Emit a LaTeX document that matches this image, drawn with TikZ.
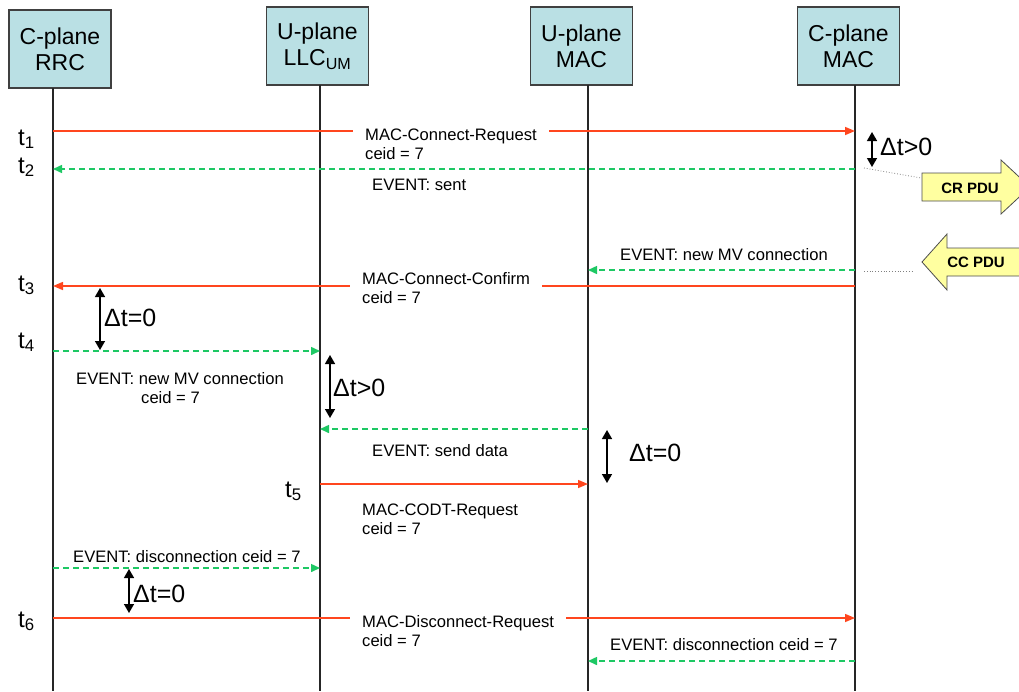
\documentclass[tikz,border=0pt]{standalone}
\usepackage{fontspec}
\setmainfont{Liberation Sans}
\usetikzlibrary{arrows.meta}

\definecolor{boxcyan}{RGB}{186,224,228}
\definecolor{msgred}{RGB}{255,70,30}
\definecolor{evgreen}{RGB}{30,200,100}
\definecolor{pduyellow}{RGB}{255,255,160}

\newcommand{\hdfont}{\fontsize{23}{26}\selectfont}
\newcommand{\msgfont}{\fontsize{16.6}{19}\selectfont}
\newcommand{\dtfont}{\fontsize{25}{28}\selectfont}
\newcommand{\tfont}{\fontsize{24}{28}\selectfont}
\newcommand{\pdufont}{\fontsize{15}{18}\selectfont\bfseries}

\tikzset{
	entity/.style={draw=black!75, line width=1.2pt, fill=boxcyan, minimum width=102pt, minimum height=78pt, align=center, font=\hdfont, inner sep=0pt},
	lifeline/.style={black!85, line width=1.3pt},
	req/.style={msgred, line width=1.5pt, -{Triangle[length=10pt,width=8pt]}},
	evt/.style={evgreen, line width=1.5pt, dash pattern=on 6pt off 4pt, -{Triangle[length=9pt,width=8pt]}},
	delay/.style={black, line width=1.4pt, {Triangle[length=9pt,width=10pt]}-{Triangle[length=9pt,width=10pt]}},
	msg/.style={font=\msgfont, align=left, inner sep=0pt, anchor=west},
	gapmsg/.style={msg, fill=white, inner xsep=12pt, inner ysep=3pt},
	tlabel/.style={font=\tfont, anchor=base west, inner sep=0pt},
	dtlabel/.style={font=\dtfont, anchor=west, inner sep=0pt},
	pdu/.style={draw=black!70, fill=pduyellow, line width=0.8pt},
	link/.style={gray, dotted, line width=0.8pt},
}

\begin{document}
\begin{tikzpicture}[x=1pt, y=-1pt]
	\useasboundingbox (0,0) rectangle (1019,691);
	\clip (0,0) rectangle (1019,691);

	\node[entity] (rrcbox) at (60,49) {C-plane\\RRC};
	\node[entity] (llcbox) at (317.5,46) {U-plane\\LLC\textsubscript{UM}};
	\node[entity] (umacbox) at (581.5,46) {U-plane\\MAC};
	\node[entity] (cmacbox) at (848.5,46) {C-plane\\MAC};

	\coordinate (rrc) at (53,88);
	\coordinate (llc) at (320,85);
	\coordinate (umac) at (588,85);
	\coordinate (cmac) at (855,85);
	\coordinate (bottom) at (0,691);
	\foreach \l in {rrc,llc,umac,cmac}
		\draw[lifeline] (\l) -- (\l |- bottom);

	\foreach \r/\y in {ra/131, rb/169, rc/270, rd/286, re/351, rf/429, rg/484, rh/568, ri/618, rj/661}
		\coordinate (\r) at (0,\y);

	\draw[req] (rrc |- ra) -- (cmac |- ra);
	\node[gapmsg] (conreq) at (353,144.5) {MAC-Connect-Request\\ceid = 7};
	\draw[evt] (cmac |- rb) -- (rrc |- rb);
	\node[msg] (sent) at (372,185) {EVENT: sent};
	\draw[evt] (cmac |- rc) -- (umac |- rc);
	\node[msg] (newmv) at (620,255) {EVENT: new MV connection};
	\draw[req] (cmac |- rd) -- (rrc |- rd);
	\node[gapmsg] (conconf) at (350,288.5) {MAC-Connect-Confirm\\ceid = 7};
	\draw[evt] (rrc |- re) -- (llc |- re);
	\node[msg] (newmvllc) at (76,388) {EVENT: new MV connection\\\hspace*{65pt}ceid = 7};
	\draw[evt] (umac |- rf) -- (llc |- rf);
	\node[msg] (senddata) at (372,451) {EVENT: send data};
	\draw[req] (llc |- rg) -- (umac |- rg);
	\node[msg] (codtreq) at (362,519.5) {MAC-CODT-Request\\ceid = 7};
	\draw[evt] (rrc |- rh) -- (llc |- rh);
	\node[msg] (disllc) at (73,557) {EVENT: disconnection ceid = 7};
	\draw[req] (rrc |- ri) -- (cmac |- ri);
	\node[gapmsg] (disreq) at (350,631.5) {MAC-Disconnect-Request\\ceid = 7};
	\draw[evt] (cmac |- rj) -- (umac |- rj);
	\node[msg] (dismac) at (610,645) {EVENT: disconnection ceid = 7};

	\foreach \n/\x/\y in {1/18/145, 2/18/173, 3/18/291, 4/18/348, 5/285/497, 6/18/627}
		\node[tlabel] (t\n) at (\x,\y) {t\textsubscript{\n}};

	\foreach \n/\x/\ya/\yb/\lx/\ly/\txt in {da/872/132/167/880/147/Δt>0, db/100/288/350/104/318/Δt=0, dc/330/355/418/333/388/Δt>0, dd/607/430/483/629/453/Δt=0, de/129/569/613/133/594/Δt=0}
	{
		\coordinate (\n-top) at (\x,\ya);
		\coordinate (\n-bot) at (\x,\yb);
		\draw[delay] (\n-top) -- (\n-bot);
		\node[dtlabel] (\n-lab) at (\lx,\ly) {\txt};
	}

	\filldraw[pdu] (922,173) -- (1001,173) -- (1001,160) -- (1030,187) -- (1001,214) -- (1001,201) -- (922,201) -- cycle;
	\node[font=\pdufont] (crpdu) at (970,188) {CR PDU};
	\filldraw[pdu] (1040,248) -- (947,248) -- (947,234) -- (922,262) -- (947,290) -- (947,276) -- (1040,276) -- cycle;
	\node[font=\pdufont] (ccpdu) at (976,262.5) {CC PDU};

	\coordinate (crfrom) at (864,168);
	\coordinate (crto) at (921,178);
	\coordinate (ccfrom) at (864,271);
	\coordinate (ccto) at (913,271);
	\draw[link] (crfrom) -- (crto);
	\draw[link] (ccfrom) -- (ccto);
\end{tikzpicture}
\end{document}
